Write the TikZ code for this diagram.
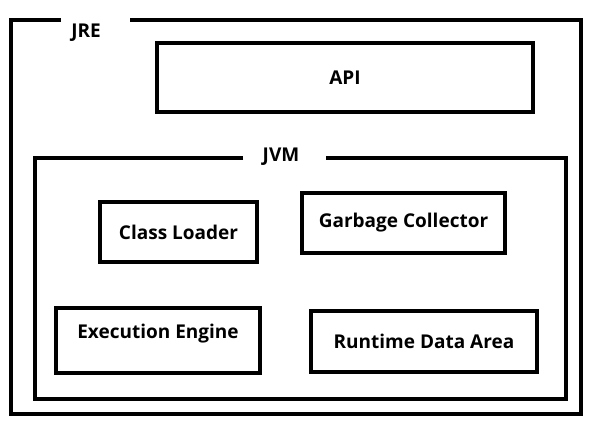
\documentclass[tikz,border=0pt]{standalone}
\usepackage{fontspec}
\setmainfont{Open Sans}
\usepackage{tikz}
\usetikzlibrary{positioning}

\begin{document}
\begin{tikzpicture}[
x=1pt, y=-1pt,
box/.style={
rectangle,
draw,
line width=4pt,
inner sep=0pt,
font=\bfseries\fontsize{19}{22}\selectfont
},
frame/.style={line width=4.5pt},
title/.style={inner sep=0pt, font=\bfseries\fontsize{19}{22}\selectfont}
]

\useasboundingbox (0,0) rectangle (594,424);

% JRE frame with its label
\node[title] (jre) at (86,33) {JRE};
\draw[frame] (61,20) -| (11,414) -| (581,20) -- (130,20);

\node[box, minimum width=376pt, minimum height=69pt] (api) at (345,77.5) {API};

% JVM frame with its label
\node[title] (jvm) at (281,157) {JVM};
\draw[frame] (243,158) -| (35,399) -| (566,158) -- (326,158);

\node[box, minimum width=157pt, minimum height=60pt] (loader) at (178.5,232) {Class Loader};
\node[box, minimum width=203pt, minimum height=60pt] (gc) at (403.5,223) {Garbage Collector};
\node[box, minimum width=204pt, minimum height=65pt, text depth=19pt] (engine) at (158,340.5) {Execution Engine};
\node[box, minimum width=226pt, minimum height=61pt] (runtime) at (424,341.5) {Runtime Data Area};

\end{tikzpicture}
\end{document}
